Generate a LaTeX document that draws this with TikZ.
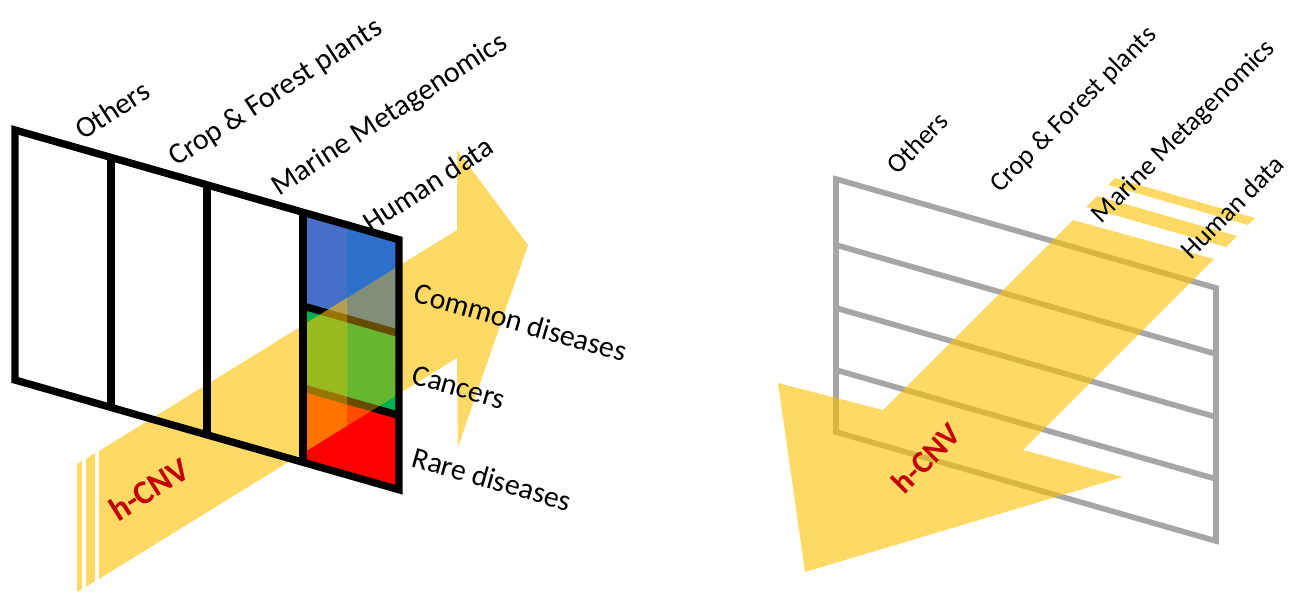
\documentclass[tikz,border=0pt]{standalone}
\usepackage{fontspec}
\setmainfont{Carlito}
\definecolor{arrowyellow}{HTML}{FFC000}
\definecolor{colblueL}{HTML}{4670C8}
\definecolor{colblueR}{HTML}{2E6FCC}
\definecolor{colgreen}{HTML}{00B050}
\definecolor{colred}{HTML}{FF0000}
\definecolor{framegray}{HTML}{A6A6A6}
\definecolor{cnvred}{HTML}{C00000}
\tikzset{
  blackframe/.style={draw=black, line width=4.2pt, line join=miter},
  grayframe/.style={draw=framegray, line width=3.2pt, line join=miter},
  bigarrow/.style={fill=arrowyellow, fill opacity=0.6},
  datalabel/.style={font=\fontsize{17}{20}\selectfont, inner sep=0pt},
  smalllabel/.style={font=\fontsize{15.3}{18}\selectfont, inner sep=0pt},
  cnvlabel/.style={font=\fontsize{19}{22}\selectfont\bfseries, text=cnvred, inner sep=0pt}
}
\begin{document}
\begin{tikzpicture}[x=0.02cm, y=-0.02cm]
\useasboundingbox (0,0) rectangle (1289,594);

% ---------- left panel: black frame, arrow to the right ----------
% Human data column (colour cells)
\fill[colblueL] (303,213) -- (347,{213+0.2857*44}) -- (347,{306+0.2857*44}) -- (303,306) -- cycle;
\fill[colblueR] (347,{213+0.2857*44}) -- (399,{213+0.2857*96}) -- (399,{306+0.2857*96}) -- (347,{306+0.2857*44}) -- cycle;
\fill[colgreen] (303,306) -- (399,{306+0.2857*96}) -- (399,{388+0.2857*96}) -- (303,388) -- cycle;
\fill[colred] (303,388) -- (399,{388+0.2857*96}) -- (399,{462+0.2857*96}) -- (303,462) -- cycle;
\foreach \y in {306,388} {
    \draw[blackframe] (303,\y) -- (399,{\y+0.2857*96});
}

% h-CNV arrow (lighter over the right half of the column)
\begin{scope}
    \clip (0,0) rectangle (347,594) (399,0) rectangle (1289,594);
    \fill[bigarrow] (99,451) -- (457,230) -- (457,150) -- (528,245) -- (458,447) -- (457,358) -- (99,579) -- cycle;
\end{scope}
\begin{scope}
    \clip (347,0) rectangle (399,594);
    \fill[bigarrow, fill opacity=0.4] (99,451) -- (457,230) -- (457,150) -- (528,245) -- (458,447) -- (457,358) -- (99,579) -- cycle;
\end{scope}
% tail stripes
\fill[bigarrow] (86,459) -- (95,453) -- (95,581) -- (86,587) -- cycle;
\fill[bigarrow] (77,464) -- (82,461) -- (82,589) -- (77,592) -- cycle;

% frame
\coordinate (LTL) at (15,130);
\coordinate (LTR) at (399,{130+0.2857*384});
\coordinate (LBR) at (399,{380+0.2857*384});
\coordinate (LBL) at (15,380);
\draw[blackframe] (LTL) -- (LTR) -- (LBR) -- (LBL) -- cycle;
\foreach \x in {111,207,303} {
    \draw[blackframe] (\x,{130+0.2857*(\x-15)}) -- (\x,{380+0.2857*(\x-15)});
}

% ---------- right panel: gray frame, arrow to the front ----------
\coordinate (RTL) at (836,179);
\coordinate (RTR) at (1216,288);
\coordinate (RBR) at (1216,541);
\coordinate (RBL) at (836,432);
\draw[grayframe] (RTL) -- (RTR) -- (RBR) -- (RBL) -- cycle;
\foreach \y in {245,308,370} {
    \draw[grayframe] (836,\y) -- (1216,{\y+109});
}

% h-CNV arrow
\fill[bigarrow] (778,383) -- (805,572) -- (1123,477) -- (1023,450) -- (1214,259) -- (1073,220) -- (883,410) -- cycle;
% tail stripes
\fill[bigarrow] (1086,207) -- (1226,247) -- (1237,236) -- (1097,196) -- cycle;
\fill[bigarrow] (1108,185) -- (1248,225) -- (1255,218) -- (1115,178) -- cycle;

% ---------- labels ----------
\foreach \x/\y/\txt in {112/110/Others, 276/93/Crop \& Forest plants, 390/115/Marine Metagenomics, 428/184/Human data} {
    \node[datalabel, rotate=33] (L\x) at (\x,\y) {\txt};
}
\foreach \x/\y/\txt in {521/322/Common diseases, 459/387/Cancers, 492/479/Rare diseases} {
    \node[datalabel, rotate=-16] (D\x) at (\x,\y) {\txt};
}
\foreach \x/\y/\txt in {917/143/Others, 1074/110/Crop \& Forest plants, 1184/132/Marine Metagenomics, 1232/207/Human data} {
    \node[smalllabel, rotate=45] (R\x) at (\x,\y) {\txt};
}
\node[cnvlabel, rotate=32] (cnvL) at (149,489) {h-CNV};
\node[cnvlabel, font=\fontsize{18}{21}\selectfont\bfseries, rotate=45] (cnvR) at (926,458) {h-CNV};
\end{tikzpicture}
\end{document}
